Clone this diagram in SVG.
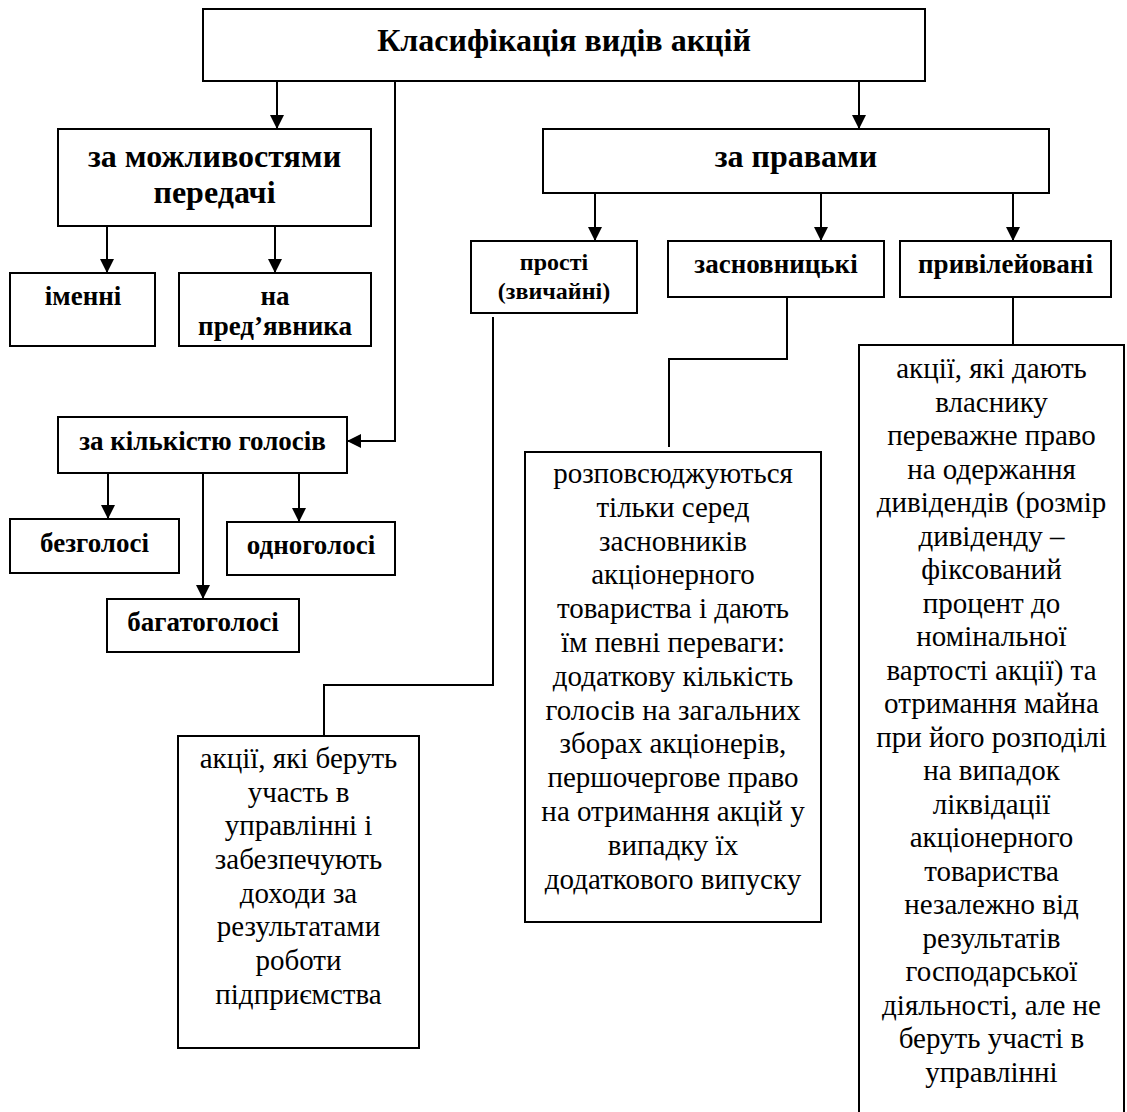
<svg xmlns="http://www.w3.org/2000/svg" width="1127" height="1112" viewBox="0 0 1127 1112">
<defs>
<marker id="arr" markerUnits="userSpaceOnUse" markerWidth="14" markerHeight="14" refX="14" refY="7" orient="auto">
<path d="M0,0 L14,7 L0,14 z" fill="#000"/>
</marker>
<style>
.box{fill:#fff;stroke:#000;stroke-width:2}
.c{fill:none;stroke:#000;stroke-width:2}
.a{marker-end:url(#arr)}
text{font-family:"Liberation Serif","Times New Roman","DejaVu Serif",serif;fill:#000;text-anchor:middle}
.t{font-size:32px;font-weight:bold}
.h{font-size:32px;font-weight:bold}
.s{font-size:27px;font-weight:bold}
.p{font-size:24px;font-weight:bold}
.b{font-size:29px}
</style>
</defs>
<rect width="1127" height="1112" fill="#fff"/>
<g id="connectors">
<path class="c a" d="M277,81 V129"/>
<path class="c a" d="M859,81 V129"/>
<path class="c a" d="M107,226 V273"/>
<path class="c a" d="M275,226 V273"/>
<path class="c a" d="M395,81 V441 H347"/>
<path class="c a" d="M108,473 V519"/>
<path class="c a" d="M203,473 V599"/>
<path class="c a" d="M299,473 V522"/>
<path class="c a" d="M595,193 V241"/>
<path class="c a" d="M821,193 V241"/>
<path class="c a" d="M1013,193 V241"/>
<path class="c" d="M493,317 V685 H324 V736"/>
<path class="c" d="M787,297 V359 H669 V447"/>
<path class="c" d="M1013,297 V345"/>
</g>
<g id="title">
<rect class="box" x="203" y="9" width="722" height="72"/>
<text class="t" x="564" y="51">Класифікація видів акцій</text>
</g>
<g id="transfer">
<rect class="box" x="58" y="129" width="313" height="97"/>
<text class="h" x="214.5" y="167">за можливостями</text>
<text class="h" x="214.5" y="203">передачі</text>
</g>
<g id="registered">
<rect class="box" x="10" y="273" width="145" height="73"/>
<text class="s" x="83" y="305">іменні</text>
</g>
<g id="bearer">
<rect class="box" x="179" y="273" width="192" height="73"/>
<text class="s" x="275" y="305">на</text>
<text class="s" x="275" y="335">пред’явника</text>
</g>
<g id="votes">
<rect class="box" x="58" y="417" width="289" height="56"/>
<text class="s" x="202.5" y="450">за кількістю голосів</text>
</g>
<g id="voteless">
<rect class="box" x="10" y="519" width="169" height="54"/>
<text class="s" x="94.5" y="552">безголосі</text>
</g>
<g id="single-vote">
<rect class="box" x="227" y="522" width="168" height="53"/>
<text class="s" x="311" y="554">одноголосі</text>
</g>
<g id="multi-vote">
<rect class="box" x="107" y="599" width="192" height="53"/>
<text class="s" x="203" y="631">багатоголосі</text>
</g>
<g id="rights">
<rect class="box" x="543" y="129" width="506" height="64"/>
<text class="h" x="796" y="167">за правами</text>
</g>
<g id="common">
<rect class="box" x="471" y="241" width="166" height="72"/>
<text class="p" x="554" y="270">прості</text>
<text class="p" x="554" y="299">(звичайні)</text>
</g>
<g id="founders">
<rect class="box" x="668" y="241" width="216" height="56"/>
<text class="s" x="776" y="273">засновницькі</text>
</g>
<g id="preferred">
<rect class="box" x="900" y="241" width="211" height="56"/>
<text class="s" x="1005.5" y="273">привілейовані</text>
</g>
<g id="common-desc">
<rect class="box" x="178" y="736" width="241" height="312"/>
<text class="b" x="298.5" y="768">акції, які беруть</text>
<text class="b" x="298.5" y="802">участь в</text>
<text class="b" x="298.5" y="835">управлінні і</text>
<text class="b" x="298.5" y="869">забезпечують</text>
<text class="b" x="298.5" y="903">доходи за</text>
<text class="b" x="298.5" y="936">результатами</text>
<text class="b" x="298.5" y="970">роботи</text>
<text class="b" x="298.5" y="1004">підприємства</text>
</g>
<g id="founders-desc">
<rect class="box" x="525" y="452" width="296" height="470"/>
<text class="b" x="673" y="483">розповсюджуються</text>
<text class="b" x="673" y="517">тільки серед</text>
<text class="b" x="673" y="551">засновників</text>
<text class="b" x="673" y="584">акціонерного</text>
<text class="b" x="673" y="618">товариства і дають</text>
<text class="b" x="673" y="652">їм певні переваги:</text>
<text class="b" x="673" y="686">додаткову кількість</text>
<text class="b" x="673" y="720">голосів на загальних</text>
<text class="b" x="673" y="753">зборах акціонерів,</text>
<text class="b" x="673" y="787">першочергове право</text>
<text class="b" x="673" y="821">на отримання акцій у</text>
<text class="b" x="673" y="855">випадку їх</text>
<text class="b" x="673" y="889">додаткового випуску</text>
</g>
<g id="preferred-desc">
<rect class="box" x="859" y="345" width="265" height="790"/>
<text class="b" x="991.5" y="378">акції, які дають</text>
<text class="b" x="991.5" y="411.5">власнику</text>
<text class="b" x="991.5" y="445">переважне право</text>
<text class="b" x="991.5" y="478.5">на одержання</text>
<text class="b" x="991.5" y="512">дивідендів (розмір</text>
<text class="b" x="991.5" y="545.5">дивіденду –</text>
<text class="b" x="991.5" y="579">фіксований</text>
<text class="b" x="991.5" y="612.5">процент до</text>
<text class="b" x="991.5" y="646">номінальної</text>
<text class="b" x="991.5" y="679.5">вартості акції) та</text>
<text class="b" x="991.5" y="713">отримання майна</text>
<text class="b" x="991.5" y="746.5">при його розподілі</text>
<text class="b" x="991.5" y="780">на випадок</text>
<text class="b" x="991.5" y="813.5">ліквідації</text>
<text class="b" x="991.5" y="847">акціонерного</text>
<text class="b" x="991.5" y="880.5">товариства</text>
<text class="b" x="991.5" y="914">незалежно від</text>
<text class="b" x="991.5" y="947.5">результатів</text>
<text class="b" x="991.5" y="981">господарської</text>
<text class="b" x="991.5" y="1014.5">діяльності, але не</text>
<text class="b" x="991.5" y="1048">беруть участі в</text>
<text class="b" x="991.5" y="1081.5">управлінні</text>
</g>
</svg>
